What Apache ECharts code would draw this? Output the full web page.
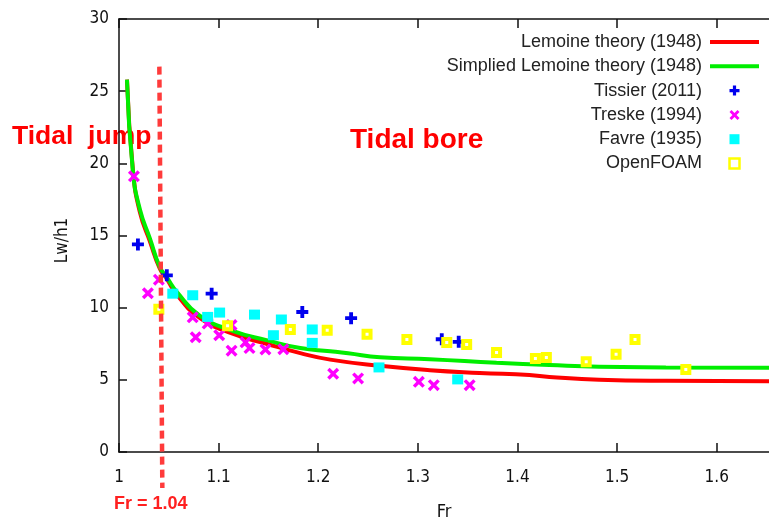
<!DOCTYPE html>
<html>
<head>
<meta charset="utf-8">
<script src="https://cdn.jsdelivr.net/npm/echarts@6.0.0/dist/echarts.min.js"></script>
<style>
  html, body { margin: 0; padding: 0; background: #fff; }
  #chart { width: 769px; height: 523px; }
</style>
</head>
<body>
<div id="chart"></div>
<script>
// values
const xTicks = [1, 1.1, 1.2, 1.3, 1.4, 1.5, 1.6];
const yTicks = [0, 5, 10, 15, 20, 25, 30];

const lemoineX = [1.008, 1.014, 1.021, 1.031, 1.041, 1.048, 1.058, 1.081, 1.114, 1.148, 1.182, 1.212, 1.262, 1.312, 1.362, 1.412, 1.432, 1.482, 1.549, 1.653];
const lemoineY = [25.8, 19.5, 16.6, 14.6, 12.7, 12.0, 10.9, 9.3, 8.2, 7.5, 6.85, 6.4, 5.97, 5.67, 5.48, 5.33, 5.2, 5.0, 4.93, 4.91];

const simplifiedX = [1.008, 1.014, 1.021, 1.031, 1.041, 1.048, 1.058, 1.081, 1.114, 1.148, 1.182, 1.212, 1.23, 1.262, 1.312, 1.379, 1.432, 1.482, 1.549, 1.653];
const simplifiedY = [25.8, 19.4, 16.8, 14.8, 12.8, 12.1, 11.1, 9.45, 8.4, 7.75, 7.2, 6.98, 6.84, 6.56, 6.43, 6.18, 6.02, 5.9, 5.86, 5.83];

const tissierX = [1.019, 1.048, 1.093, 1.184, 1.233, 1.324, 1.341];
const tissierY = [14.38, 12.24, 10.97, 9.7, 9.27, 7.81, 7.63];

const treskeX = [1.015, 1.029, 1.040, 1.074, 1.077, 1.089, 1.1006, 1.113, 1.113, 1.127, 1.131, 1.147, 1.165, 1.215, 1.240, 1.301, 1.316, 1.352];
const treskeY = [19.1, 11.0, 11.94, 9.33, 7.95, 8.9, 8.09, 8.8, 7.02, 7.6, 7.2, 7.1, 7.12, 5.42, 5.1, 4.86, 4.63, 4.63];

const favreX = [1.054, 1.074, 1.089, 1.101, 1.136, 1.155, 1.163, 1.194, 1.194, 1.261, 1.340];
const favreY = [10.97, 10.86, 9.36, 9.66, 9.52, 8.09, 9.18, 8.49, 7.56, 5.86, 5.03];

const openfoamX = [1.040, 1.109, 1.172, 1.209, 1.249, 1.289, 1.329, 1.349, 1.379, 1.418, 1.429, 1.469, 1.499, 1.518, 1.569];
const openfoamY = [9.89, 8.74, 8.49, 8.44, 8.16, 7.79, 7.59, 7.45, 6.89, 6.48, 6.55, 6.25, 6.78, 7.79, 5.72];

// Fr = 1.04 marker, drawn slightly slanted as in the picture
const frLineX = [1.0405, 1.0435];
const frLineY = [26.7, -2.5];

const zip = (xs, ys) => xs.map((x, i) => [x, ys[i]]);

const plusPath = "path://M3.4,0H6.6V3.4H10V6.6H6.6V10H3.4V6.6H0V3.4H3.4Z";
const crossPath = "path://M0,2L2,0L5,3L8,0L10,2L7,5L10,8L8,10L5,7L2,10L0,8L3,5Z";
const squarePath = "path://M0,0H10V10H0Z";
const barPath = "path://M0,0H49V4H0Z";

const chart = echarts.init(document.getElementById("chart"), null, { renderer: "canvas" });

const axisFont = "'DejaVu Sans Condensed', 'DejaVu Sans', sans-serif";
const axisLine = { lineStyle: { color: "#111", width: 1.5 } };
const tickStyle = { color: "#111", width: 1.5 };

const option = {
  backgroundColor: "#fff",
  animation: false,
  grid: { left: 119, right: 0, top: 19, bottom: 71, outerBoundsMode: "none", containLabel: false },
  legend: {
    data: [
      { name: "Lemoine theory (1948)", icon: barPath },
      { name: "Simplied Lemoine theory (1948)", icon: barPath },
      "Tissier (2011)",
      "Treske (1994)",
      { name: "Favre (1935)", icon: squarePath },
      { name: "OpenFOAM", icon: squarePath, itemStyle: { borderWidth: 2.5 } },
    ],
    orient: "vertical",
    align: "right",
    right: 10,
    top: 33,
    padding: 0,
    itemWidth: 49,
    itemHeight: 10,
    itemGap: 6.3,
    textStyle: {
      fontFamily: "'Liberation Sans', Arial, sans-serif",
      fontSize: 18,
      color: "#222",
      padding: [0, 3, 0, 0],
    },
  },
  xAxis: [
    {
      type: "value",
      min: 1,
      max: 1.6525,
      interval: 0.1,
      name: "Fr",
      nameLocation: "middle",
      nameGap: 51,
      nameTextStyle: { fontFamily: axisFont, fontSize: 18, color: "#111" },
      axisLine: axisLine,
      axisTick: { inside: true, length: 9, lineStyle: tickStyle, customValues: xTicks },
      axisLabel: {
        margin: 17,
        fontFamily: axisFont,
        fontSize: 17,
        color: "#111",
        customValues: xTicks,
      },
      splitLine: { show: false },
    },
    {
      type: "value",
      position: "top",
      min: 1,
      max: 1.6525,
      interval: 0.1,
      axisLine: axisLine,
      axisTick: { inside: true, length: 9, lineStyle: tickStyle, customValues: xTicks },
      axisLabel: { show: false },
      splitLine: { show: false },
    },
  ],
  yAxis: {
    type: "value",
    min: 0,
    max: 30,
    interval: 5,
    name: "Lw/h1",
    nameLocation: "middle",
    nameGap: 48,
    nameTextStyle: { fontFamily: axisFont, fontSize: 17, color: "#111", padding: [0, 10, 0, 0] },
    axisLine: { show: true, lineStyle: { color: "#111", width: 1.5 } },
    axisTick: { show: true, inside: true, length: 8, lineStyle: tickStyle },
    axisLabel: {
      margin: 10,
      padding: [5, 0, 0, 0],
      fontFamily: axisFont,
      fontSize: 17,
      color: "#111",
      customValues: yTicks,
    },
    splitLine: { show: false },
  },
  series: [
    {
      name: "Lemoine theory (1948)",
      type: "line",
      data: zip(lemoineX, lemoineY),
      smooth: true,
      symbol: "none",
      lineStyle: { color: "#ff0000", width: 4 },
      itemStyle: { color: "#ff0000" },
      z: 2,
    },
    {
      name: "Simplied Lemoine theory (1948)",
      type: "line",
      data: zip(simplifiedX, simplifiedY),
      smooth: true,
      symbol: "none",
      lineStyle: { color: "#00ee00", width: 4 },
      itemStyle: { color: "#00ee00" },
      z: 2,
    },
    {
      name: "Treske (1994)",
      type: "scatter",
      data: zip(treskeX, treskeY),
      symbol: crossPath,
      symbolSize: 12,
      itemStyle: { color: "#ff00ff", opacity: 1 },
      z: 3,
    },
    {
      name: "Favre (1935)",
      type: "scatter",
      data: zip(favreX, favreY),
      symbol: squarePath,
      symbolSize: [11, 10],
      itemStyle: { color: "#00ffff", opacity: 1 },
      z: 4,
    },
    {
      name: "Tissier (2011)",
      type: "scatter",
      data: zip(tissierX, tissierY),
      symbol: plusPath,
      symbolSize: 12,
      itemStyle: { color: "#0000ee", opacity: 1 },
      z: 5,
    },
    {
      name: "OpenFOAM",
      type: "scatter",
      data: zip(openfoamX, openfoamY),
      symbol: squarePath,
      symbolSize: 7,
      itemStyle: { color: "#ffffff", borderColor: "#ffff00", borderWidth: 4, opacity: 1 },
      z: 6,
    },
    {
      name: "Fr line",
      type: "line",
      data: zip(frLineX, frLineY),
      symbol: "none",
      clip: false,
      silent: true,
      lineStyle: { color: "#ff3b3b", width: 4.5, type: [8, 5] },
      z: 7,
    },
  ],
  graphic: [
    {
      type: "text",
      left: 12,
      top: 123,
      style: {
        text: "Tidal  jump",
        fill: "#ff0000",
        font: "bold 26.5px 'Liberation Sans', Arial, sans-serif",
      },
    },
    {
      type: "text",
      left: 350,
      top: 126,
      style: {
        text: "Tidal bore",
        fill: "#ff0000",
        font: "bold 28px 'Liberation Sans', Arial, sans-serif",
      },
    },
    {
      type: "text",
      left: 114,
      top: 495,
      style: {
        text: "Fr = 1.04",
        fill: "#ff2020",
        font: "bold 18px 'Liberation Sans', Arial, sans-serif",
      },
    },
  ],
};

chart.setOption(option);

window.addEventListener("resize", () => chart.resize());
</script>
</body>
</html>
